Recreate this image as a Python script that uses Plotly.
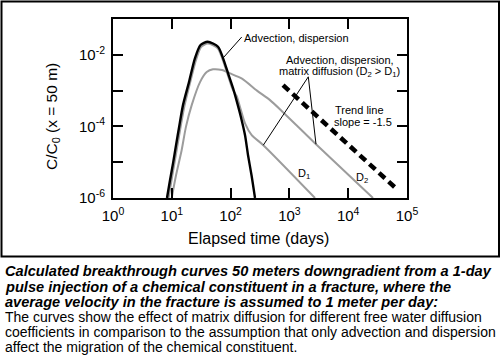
import plotly.graph_objects as go

# ---- data ----
# Advection, dispersion only (black)
t_adv = [8.28, 9.32, 10.5, 11.8, 13.3, 15.5, 19.6, 24.8, 30.8, 40.8, 61.1, 74.3, 90.3, 110, 128.5, 150, 176, 198, 227, 260]
c_adv = [1.0e-6, 3.13e-6, 9.4e-6, 2.99e-5, 9.5e-5, 3.93e-4, 1.73e-3, 8.1e-3, 0.0188, 0.0232, 0.0168, 8.1e-3, 3.08e-3, 1.17e-3, 4.76e-4, 1.81e-4, 5.68e-5, 1.57e-5, 4.3e-6, 1.0e-6]

# Advection, dispersion, matrix diffusion D1 (gray)
t_d1 = [8.79, 9.89, 11.1, 12.5, 14.1, 16.4, 20.4, 25.8, 31.4, 40.8, 59.9, 72.8, 88.6, 108, 127, 144.5, 176, 228.5, 360, 2725]
c_d1 = [1.0e-6, 3.13e-6, 9.4e-6, 2.99e-5, 9.5e-5, 3.68e-4, 1.62e-3, 7.13e-3, 0.0165, 0.0206, 0.01545, 7.6e-3, 2.89e-3, 1.10e-3, 7.0e-4, 3.5e-4, 1.21e-4, 5.68e-5, 2.99e-5, 1.0e-6]

# Advection, dispersion, matrix diffusion D2 (gray)
t_d2 = [9.96, 11.8, 14.7, 17.4, 21.8, 30.2, 39.2, 50.2, 71.4, 97.7, 156, 281, 468, 778, 2833, 26400]
c_d2 = [1.0e-6, 4.3e-6, 2.16e-5, 9.7e-5, 3.93e-4, 1.73e-3, 3.29e-3, 3.92e-3, 3.74e-3, 3.03e-3, 2.16e-3, 1.0e-3, 5.42e-4, 2.50e-4, 3.18e-5, 1.0e-6]

# Trend line, slope = -1.5
t_trend = [780, 62000]
c_trend = [1.42e-3, 2.0e-6]

# Leader-line anchor points
lead1_t = [74.3, 154.5]
lead1_c = [8.1e-3, 0.0313]
lead2_t = [360, 2096, 2833]
lead2_c = [2.99e-5, 2.43e-3, 3.18e-5]

# Axis ticks
x_tickvals = [1, 10, 100, 1e3, 1e4, 1e5]
x_ticktext = ["10<sup>0</sup>", "10<sup>1</sup>", "10<sup>2</sup>", "10<sup>3</sup>", "10<sup>4</sup>", "10<sup>5</sup>"]
y_tickvals = [1e-6, 1e-5, 1e-4, 1e-3, 1e-2]
y_ticktext = ["10<sup>-6</sup>", " ", "10<sup>-4</sup>", " ", "10<sup>-2</sup>"]

caption_bold = [
    "Calculated breakthrough curves 50 meters downgradient from a 1-day",
    "pulse injection of a chemical constituent in a fracture, where the",
    "average velocity in the fracture is assumed to 1 meter per day:",
]
caption_plain = [
    "The curves show the effect of matrix diffusion for different free water diffusion",
    "coefficients in comparison to the assumption that only advection and dispersion",
    "affect the migration of the chemical constituent.",
]

FONT = "Liberation Sans, Arial, sans-serif"
GRAY = "#9c9c9c"

W, H = 502, 361
L, R, T, B = 113, 95, 19, 163
PW, PH = W - L - R, H - T - B


def px(xpix):
    return (xpix - L) / PW


def py(ypix):
    return (H - B - ypix) / PH


fig = go.Figure()
fig.add_trace(go.Scatter(x=t_d2, y=c_d2, mode="lines", line=dict(color=GRAY, width=2, shape="spline", smoothing=0.7), hoverinfo="skip"))
fig.add_trace(go.Scatter(x=t_d1, y=c_d1, mode="lines", line=dict(color=GRAY, width=2, shape="spline", smoothing=0.7), hoverinfo="skip"))
fig.add_trace(go.Scatter(x=t_adv, y=c_adv, mode="lines", line=dict(color="black", width=2.4, shape="spline", smoothing=0.7), hoverinfo="skip"))
fig.add_trace(go.Scatter(x=t_trend, y=c_trend, mode="lines", line=dict(color="black", width=4.5, dash="8px,5px"), hoverinfo="skip"))
fig.add_trace(go.Scatter(x=lead1_t, y=lead1_c, mode="lines", line=dict(color="black", width=1), hoverinfo="skip"))
fig.add_trace(go.Scatter(x=lead2_t, y=lead2_c, mode="lines", line=dict(color="black", width=1), hoverinfo="skip"))

axis_common = dict(
    type="log", showgrid=False, zeroline=False, showline=True, linecolor="black", linewidth=2,
    mirror="ticks", ticks="inside", ticklen=10, tickwidth=2, tickcolor="black",
    tickfont=dict(family=FONT, size=15, color="black"),
)
fig.update_xaxes(range=[0, 5], tickvals=x_tickvals, ticktext=x_ticktext, ticklabelstandoff=3, **axis_common)
fig.update_yaxes(range=[-6, -1], tickvals=y_tickvals, ticktext=y_ticktext, ticklabelstandoff=3, **axis_common)

ann = []
tf = dict(family=FONT, size=11, color="black")
ann.append(dict(x=px(242), y=py(38), text="Advection, dispersion", xanchor="left", yanchor="middle", font=tf))
ann.append(dict(x=px(340), y=py(60), text="Advection, dispersion,", xanchor="center", yanchor="middle", font=tf))
ann.append(dict(x=px(339), y=py(72), text="matrix diffusion (D<sub>2</sub> > D<sub>1</sub>)", xanchor="center", yanchor="middle", font=tf))
ann.append(dict(x=px(333), y=py(110), text="Trend line", xanchor="left", yanchor="middle", font=tf))
ann.append(dict(x=px(332), y=py(122), text="slope = -1.5", xanchor="left", yanchor="middle", font=tf))
ann.append(dict(x=px(296), y=py(174), text="D<sub>1</sub>", xanchor="left", yanchor="middle", font=tf))
ann.append(dict(x=px(354), y=py(178), text="D<sub>2</sub>", xanchor="left", yanchor="middle", font=tf))
ann.append(dict(x=px(258), y=py(238), text="Elapsed time (days)", xanchor="center", yanchor="middle", font=dict(family=FONT, size=16, color="black")))
ann.append(dict(x=px(52), y=py(117), text="C/C<sub>0</sub> (x = 50 m)", textangle=-90, xanchor="center", yanchor="middle", font=dict(family=FONT, size=15.5, color="black")))

cap_y = [271, 286.5, 301.5, 317, 332, 347]
for i, line in enumerate(caption_bold):
    ann.append(dict(x=px(3), y=py(cap_y[i]), text="<b><i>" + line + "</i></b>", xanchor="left", yanchor="middle",
                    font=dict(family=FONT, size=14.6, color="black")))
for i, line in enumerate(caption_plain):
    ann.append(dict(x=px(3), y=py(cap_y[i + 3]), text=line, xanchor="left", yanchor="middle",
                    font=dict(family=FONT, size=14, color="black")))
for a in ann:
    a.update(xref="paper", yref="paper", showarrow=False)

fig.update_layout(
    width=W, height=H, margin=dict(l=L, r=R, t=T, b=B),
    paper_bgcolor="white", plot_bgcolor="white", showlegend=False,
    annotations=ann,
    shapes=[dict(type="rect", xref="paper", yref="paper", x0=px(1.5), x1=px(499), y0=py(256.5), y1=py(1.5),
                 line=dict(color="black", width=2), fillcolor="rgba(0,0,0,0)", layer="above")],
)

fig.write_html("out.html", config={"displayModeBar": False, "staticPlot": True},
               post_script="document.body.style.margin='0';document.body.style.overflow='hidden';")
